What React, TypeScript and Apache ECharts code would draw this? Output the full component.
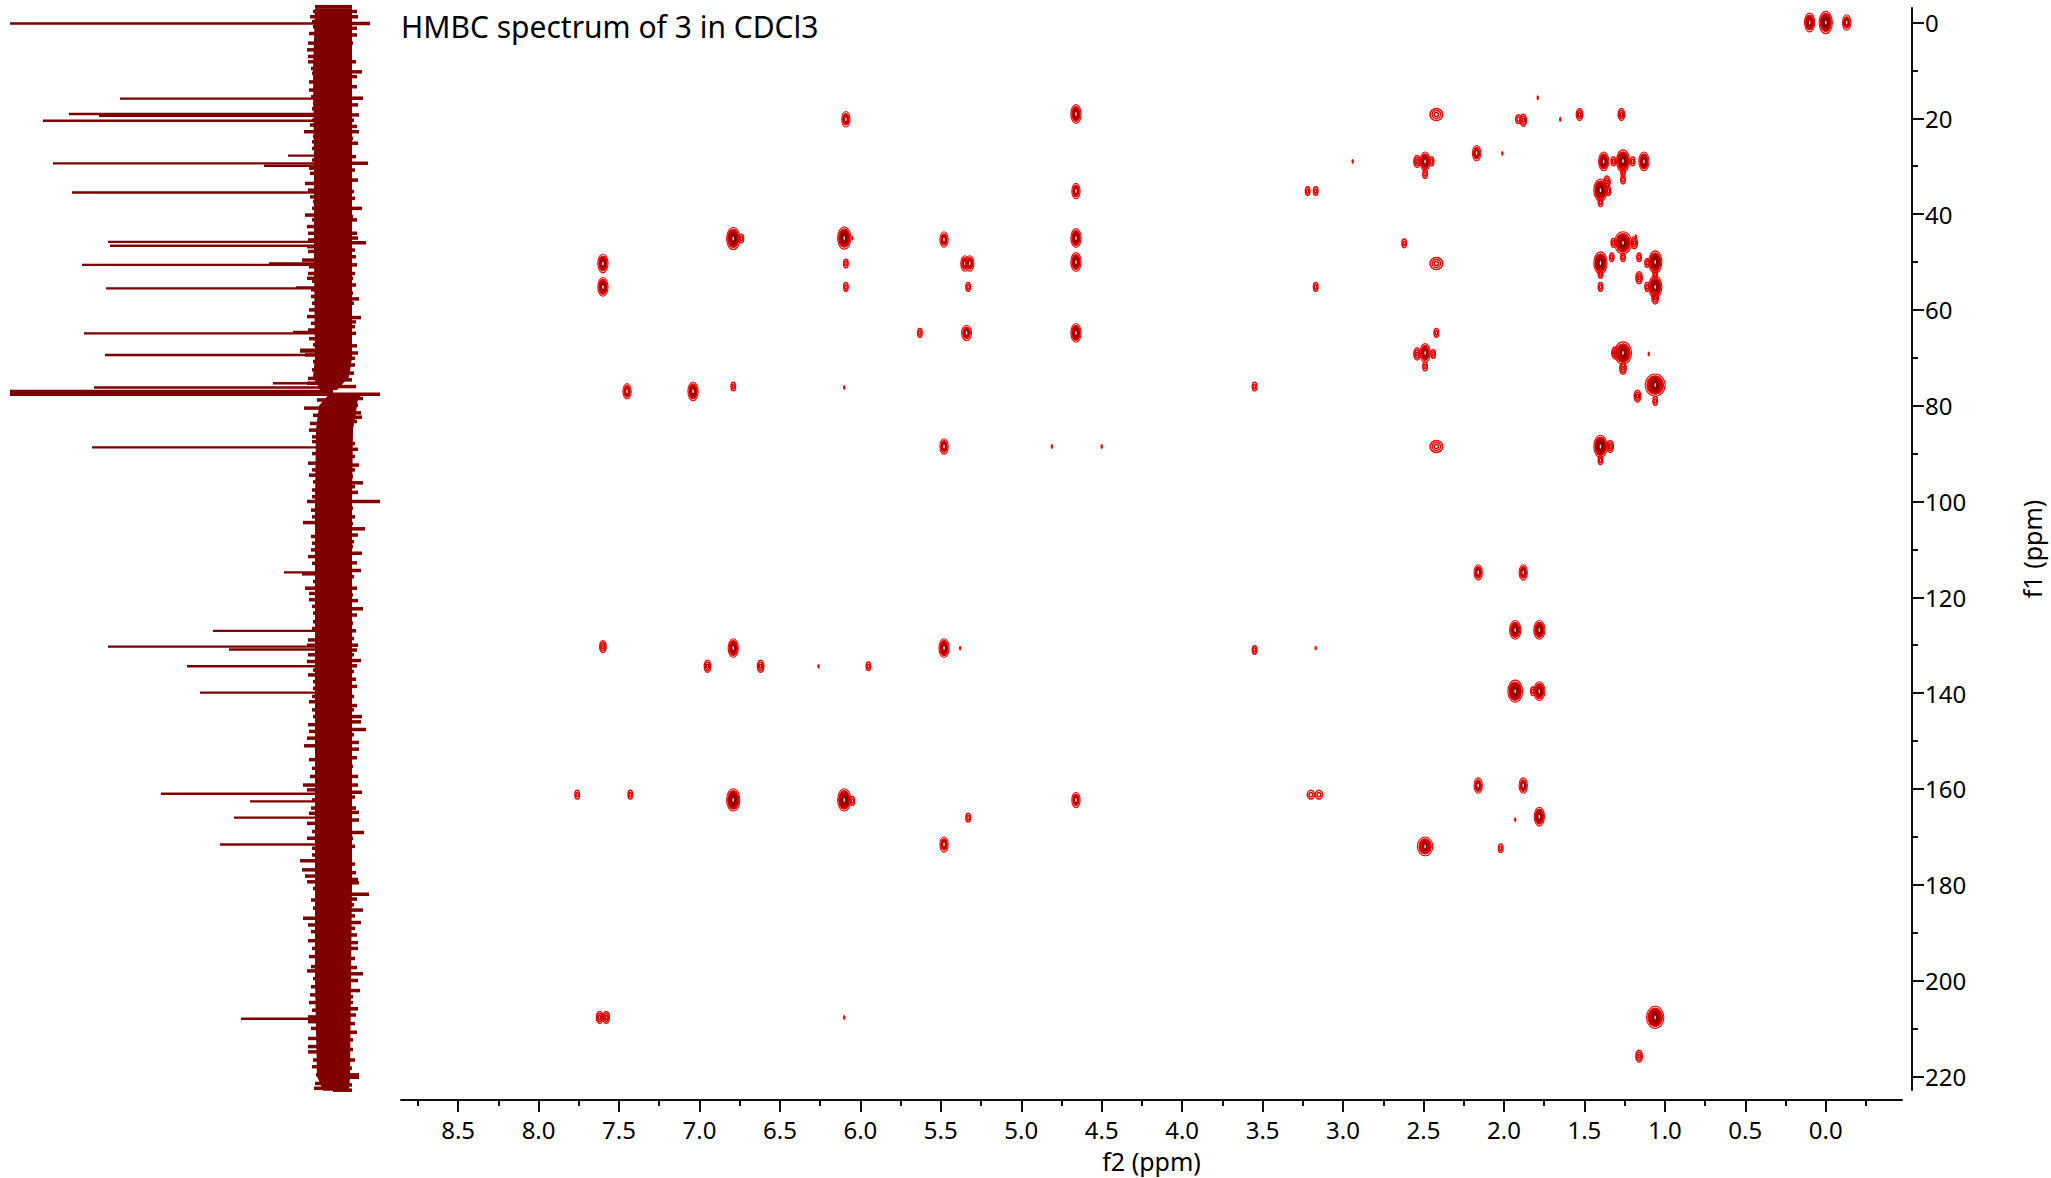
import React, { useEffect, useRef } from "react";
import * as echarts from "echarts";

const FONT = "'Noto Sans', sans-serif";
const TITLE = "HMBC spectrum of 3 in CDCl3";

const f2Major = [8.5, 8, 7.5, 7, 6.5, 6, 5.5, 5, 4.5, 4, 3.5, 3, 2.5, 2, 1.5, 1, 0.5, 0];
const f2Minor = [8.75, 8.25, 7.75, 7.25, 6.75, 6.25, 5.75, 5.25, 4.75, 4.25, 3.75, 3.25, 2.75, 2.25, 1.75, 1.25, 0.75, 0.25, -0.25];
const f1Major = [0, 20, 40, 60, 80, 100, 120, 140, 160, 180, 200, 220];
const f1Minor = [10, 30, 50, 70, 90, 110, 130, 150, 170, 190, 210];

// HMBC cross peaks: f2 (ppm), f1 (ppm), number of contour levels, breadth factor
const peakF2 = [0.1, 0.0, -0.13, 6.09, 4.66, 2.42, 1.88, 1.91, 1.79, 1.65, 1.53, 1.27,
  2.94, 2.49, 2.54, 2.45, 2.49, 2.17, 2.01, 1.38, 1.26, 1.32, 1.2, 1.26, 1.26, 1.13,
  3.22, 3.17, 4.66, 1.4, 1.36, 1.35, 1.4,
  6.79, 6.74, 6.1, 6.05, 5.48, 4.66, 2.62, 1.26, 1.32, 1.19, 1.26, 1.18,
  7.6, 6.09, 4.66, 5.35, 5.32, 2.42, 1.4, 1.33, 1.4, 1.16, 1.11, 1.06,
  7.6, 6.09, 5.33, 3.17, 1.06, 1.16, 1.11, 1.06, 1.06, 1.4,
  5.63, 5.34, 4.66, 2.42, 2.49, 2.54, 2.44, 2.49, 1.26, 1.26, 1.31, 1.1,
  7.45, 7.04, 6.79, 6.1, 3.55, 1.06, 1.17, 1.06,
  5.48, 4.81, 4.5, 2.42, 1.4, 1.34, 1.4,
  2.16, 1.88, 1.93, 1.78,
  7.6, 6.79, 5.48, 5.38, 3.55, 3.17,
  6.95, 6.62, 6.26, 5.95,
  1.93, 1.82, 1.78,
  7.76, 7.43, 3.2, 3.15, 2.16, 1.88, 6.79, 6.1, 6.05, 4.66,
  5.33, 1.93, 1.78, 5.48, 2.49, 2.02,
  7.62, 7.58, 6.1, 1.06, 1.16];
const peakF1 = [0, 0, 0, 20.2, 19.1, 19.2, 20.4, 20.2, 15.7, 20.2, 19.2, 19.2,
  29, 29, 29, 29, 31.6, 27.3, 27.3, 29, 28.9, 29, 29, 31.2, 32.8, 29,
  35.2, 35.2, 35.2, 35, 33.3, 35.2, 37.5,
  45.1, 45.1, 45, 45, 45.3, 45, 46.1, 46, 46, 46, 49, 44.7,
  50.3, 50.3, 50, 50.3, 50.3, 50.3, 50.2, 49, 52.5, 49, 50.2, 50,
  55.2, 55.2, 55.2, 55.2, 55.2, 53.3, 55.2, 52.6, 57.5, 55.2,
  64.8, 64.8, 64.8, 64.8, 69, 69.2, 69.2, 71.8, 69, 72.2, 69, 69.2,
  77, 77, 76, 76.2, 76, 75.7, 78, 79,
  88.5, 88.5, 88.5, 88.5, 88.5, 88.5, 91.4,
  114.8, 114.8, 126.8, 126.8,
  130.3, 130.6, 130.6, 130.6, 131, 130.6,
  134.4, 134.4, 134.4, 134.4,
  139.6, 139.6, 139.6,
  161.2, 161.2, 161.2, 161.2, 159.3, 159.3, 162.3, 162.3, 162.5, 162.3,
  166, 166.4, 165.8, 171.6, 172, 172.4,
  207.7, 207.7, 207.7, 207.7, 215.8];
const peakLevel = [4, 5, 3, 3, 4, 2, 2, 1, 0, 0, 2, 2,
  0, 4, 2, 1, 1, 3, 0, 4, 5, 1, 1, 1, 1, 4,
  1, 1, 3, 5, 2, 1, 1,
  5, 1, 5, 0, 3, 4, 1, 5, 1, 2, 1, 0,
  4, 1, 4, 3, 3, 2, 5, 1, 1, 1, 1, 5,
  4, 1, 1, 1, 5, 2, 1, 1, 2, 1,
  1, 3, 4, 1, 4, 2, 1, 1, 5, 2, 2, 0,
  3, 4, 1, 0, 1, 5, 2, 1,
  3, 0, 0, 2, 5, 2, 1,
  3, 3, 4, 4,
  2, 4, 4, 0, 1, 0,
  2, 2, 0, 1,
  5, 1, 4,
  1, 1, 1, 1, 3, 3, 5, 5, 1, 3,
  1, 0, 4, 3, 4, 1,
  2, 2, 0, 5, 2];
const peakBreadth = [1, 1, 1, 1, 1, 2, 1, 1.2, 1, 1, 1, 1,
  1, 1, 1, 1, 1, 1, 1, 1, 1, 1, 1, 1, 1, 1,
  1, 1, 1, 1, 1, 1, 1,
  1, 1, 1, 1, 1, 1, 1, 1.3, 1, 1, 1, 1,
  1, 1, 1, 1, 1, 2, 1, 1, 1, 1, 1, 1,
  1, 1, 1, 1, 1, 1, 1, 1, 1, 1,
  1, 1.2, 1, 1, 1, 1, 1, 1, 1.3, 1, 1, 1,
  1, 1, 1, 1, 1, 1.5, 1, 1,
  1, 1, 1, 2, 1, 1, 1,
  1, 1, 1.1, 1.1,
  1, 1, 1, 1, 1, 1,
  1, 1, 1, 1,
  1.1, 1, 1.1,
  1, 1, 1.6, 1.6, 1, 1, 1, 1, 1, 1,
  1, 1, 1, 1, 1.5, 1,
  1, 1, 1, 1.3, 1];

// 13C projection: peak sticks, intensity grows towards the left
const stickF1 = [0.2, 15.9, 19.1, 19.45, 20.5, 27.8, 29.4, 29.9, 35.5, 45.8, 46.6, 50.3, 50.6, 55.3, 55.5, 64.6, 64.9, 68.7, 69.4, 75.3, 76.2, 76.9, 77.3, 77.7, 88.7, 114.8, 127, 130.3, 130.9, 134.4, 139.9, 161, 162.6, 166, 171.6, 208];
const stickHeight = [323, 213, 264, 234, 290, 45, 280, 69, 261, 225, 223, 64, 251, 37, 227, 40, 249, 33, 228, 60, 239, 323, 323, 323, 241, 49, 120, 225, 104, 146, 133, 172, 83, 99, 113, 92];

// Solid body of the noise band: [f1, left extent, right extent]
const coreUpperF1 = [-3, 10, 30, 50, 70, 74, 76.7];
const coreUpperLeft = [18, 20, 19, 19, 18, 20, 13];
const coreUpperRight = [19, 19, 19, 19, 19, 16, 4];
const coreLowerF1 = [77.5, 78.5, 80, 85, 100, 120, 140, 160, 180, 200, 220, 223];
const coreLowerLeft = [3, 8, 14, 17, 18, 18, 18, 18, 18, 18, 16, 10];
const coreLowerRight = [30, 25, 24, 20, 19, 19, 19, 19, 19, 18, 17, 16];

// Noise excursions read along the band
const noiseLeftF1 = [-3.3, -2.3, -1.2, -0.2, 0.9, 2.3, 3.3, 4.3, 5.7, 7.1, 8.2, 9.6, 10.6, 12.4, 14.1, 15.5, 16.9, 18, 20.4, 21.4, 22.8, 23.8, 24.9, 26.3, 28.7, 30.4, 31.5, 33.6, 35, 36.4, 37.4, 38.8, 40.2, 41.2, 42.6, 44, 45.4, 46.8, 47.8, 49.6, 51, 52.4, 53.4,
  54, 55.8, 57.2, 58.6, 60, 61.4, 62.8, 64.2, 66, 67.3, 68.4, 69.4, 70.8, 72.5, 74.3, 75.3, 78.8, 80.5, 82, 83.7, 85.1, 86.5, 87.5, 90, 92, 93.4, 94.5, 95.9, 97.6, 99, 100, 101.8, 103.2, 104.4, 106, 107.3, 108.7, 110.1, 111.5,
  112.9, 115.1, 116.7, 118.1, 119.2, 120.5, 121.9, 123.3, 125.1, 126.5, 128.9, 130, 132, 133.4, 135.2, 136.2, 137.6, 139, 140.7, 141.8, 143.5, 144.9, 146.6, 148, 149.4, 151, 152.6, 153.9, 155.7, 157.4, 159.2, 160.2, 162.3, 164, 165.1, 167.2, 168.9, 170.3,
  172.4, 173.8, 175, 176.9, 178.2, 179.4, 180.8, 183.2, 184.9, 187, 188.4, 189.8, 191.7, 193.3, 195, 197.1, 198, 199.6, 201.3, 203, 204.6, 206.2, 207.6, 208.6, 210, 212.1, 213.8, 214.9, 216.6, 218, 219.7, 221.5, 222.5];
const noiseLeft = [18, 20, 23, 21, 20, 24, 17, 25, 26, 25, 25, 22, 21, 24, 24, 22, 20, 21, 21, 23, 29, 20, 21, 21, 21, 24, 23, 28, 25, 23, 20, 21, 28, 21, 26, 25, 25, 26, 25, 31, 24, 25, 26,
  21, 22, 22, 21, 24, 26, 22, 25, 24, 20, 33, 28, 20, 21, 25, 26, 16, 29, 20, 23, 24, 21, 21, 21, 25, 21, 24, 20, 21, 21, 26, 22, 21, 30, 18, 22, 21, 22, 25,
  21, 31, 20, 28, 24, 24, 21, 20, 20, 21, 25, 26, 25, 26, 20, 25, 20, 20, 21, 24, 21, 20, 25, 24, 26, 29, 18, 24, 21, 23, 30, 26, 21, 22, 24, 26, 21, 26,
  21, 21, 33, 31, 28, 26, 20, 22, 20, 30, 25, 22, 25, 21, 24, 22, 26, 20, 22, 23, 24, 21, 25, 25, 22, 25, 25, 25, 20, 21, 17, 18, 19];
const noiseRightF1 = [-3.3, -2.3, -1.2, 0.2, 1.2, 2.6, 4.3, 6.4, 8.2, 10.3, 11.3, 13.4, 15.8, 17.2, 19.3, 20.4, 21.7, 22.8, 24.2, 25.2, 26.6, 28, 29.4, 30.8, 32.9, 35.3, 36.7, 38.8, 40.5, 41.2, 44, 45, 46, 47.5, 48.9, 50.6, 52.4, 53.4,
  54.8, 56.5, 57.7, 58.6, 60.4, 61.6, 62.5, 63.5, 64.9, 66.3, 67.5, 69, 70.1, 71.5, 73.2, 74.6, 76, 77.6, 78.5, 79.9, 81.5, 82.4, 83.3, 84.4, 86.1, 87.9, 89.1, 90.6, 92.4, 93.4, 94.8, 96.1, 96.9, 98.1, 100, 101.4, 103.2, 104.6, 105.7, 107, 108.4, 109.4, 110.8, 111.9,
  112.8, 114.4, 115.7, 118.1, 119.5, 120.7, 122.4, 123.7, 125.4, 127, 128.6, 130, 131, 132, 133.2, 134.3, 135.5, 137.1, 138.6, 140.7, 142.6, 143.5, 144.9, 146, 147.6, 148.7, 150.3, 151.7, 153.5, 155.3, 157.4, 159.2, 160.7, 161.7, 164, 164.9, 166.5, 169.1, 170.3,
  172, 173.5, 175.7, 177.5, 178.9, 179.6, 180.8, 182, 183, 184.2, 185.3, 186.5, 187.9, 189.1, 190.5, 192.1, 193.3, 195.4, 197.3, 198.6, 200, 202.1, 203.4, 204.6, 205.9, 207.2, 209, 210.8, 212.4, 214.4, 216.6, 218.3, 219.7, 220.2, 221.8, 222.9];
const noiseRight = [19, 24, 25, 37, 24, 24, 20, 19, 23, 29, 24, 24, 30, 25, 26, 21, 24, 26, 20, 25, 19, 23, 35, 22, 25, 21, 22, 29, 20, 24, 24, 25, 33, 22, 23, 24, 22, 20,
  23, 20, 26, 21, 19, 28, 23, 22, 23, 19, 24, 25, 22, 22, 21, 19, 23, 47, 30, 25, 28, 29, 24, 20, 19, 22, 25, 22, 26, 22, 20, 30, 22, 25, 47, 20, 22, 20, 32, 25, 21, 20, 29, 19,
  24, 28, 21, 24, 20, 25, 30, 24, 20, 23, 21, 25, 24, 21, 28, 24, 21, 23, 24, 21, 24, 21, 29, 28, 33, 21, 26, 26, 24, 20, 25, 25, 29, 22, 23, 26, 26, 31, 20,
  22, 18, 22, 23, 25, 26, 19, 36, 24, 21, 30, 22, 28, 22, 24, 25, 25, 22, 24, 30, 25, 27, 20, 20, 25, 23, 22, 24, 20, 20, 22, 19, 26, 26, 19, 19];

const CONTOUR_COLORS = ["#ff0000", "#e00000", "#b80000", "#9c0000", "#8a0000", "#800000"];
const DARK = "#800000";
const AXIS = "#111111";

function peakItem(params: any, api: any) {
  const i = params.dataIndex;
  const c = api.coord([peakF2[i], peakF1[i]]);
  const L = peakLevel[i];
  const b = peakBreadth[i];
  if (L === 0) {
    return {
      type: "ellipse",
      shape: { cx: c[0], cy: c[1], rx: 1.2, ry: 2.4 },
      style: { fill: "#ff0000" },
    };
  }
  const rx = 1.3 + 0.95 * L + (L === 5 ? 0.6 : 0);
  const ry = 2.6 + 1.7 * L;
  const children: any[] = [];
  for (let k = 0; k <= L; k++) {
    const t = 1 - k / (L + 1);
    const widen = k < 2 || L < 3 ? b : 1;
    const color = CONTOUR_COLORS[Math.min(5, k)];
    children.push({
      type: "ellipse",
      shape: { cx: c[0], cy: c[1], rx: rx * t * widen, ry: ry * t },
      style: { fill: L >= 3 && k >= 1 ? color : "none", stroke: color, lineWidth: L < 3 ? 1.5 : 1.1 },
    });
  }
  if (L >= 3) {
    children.push({
      type: "ellipse",
      shape: { cx: c[0], cy: c[1], rx: 0.8, ry: 2 },
      style: { fill: "#ffdcdc" },
    });
  }
  return { type: "group", children };
}

function coreShape(f1: number[], left: number[], right: number[], api: any) {
  const pts: number[][] = [];
  f1.forEach((v, i) => pts.push(api.coord([left[i], v])));
  for (let i = f1.length - 1; i >= 0; i--) pts.push(api.coord([-right[i], f1[i]]));
  return { type: "polygon", shape: { points: pts }, style: { fill: DARK } };
}

function hRect(a: number[], b: number[], h: number, fill: string) {
  return {
    type: "rect",
    shape: { x: Math.min(a[0], b[0]), y: a[1] - h / 2, width: Math.abs(a[0] - b[0]), height: h },
    style: { fill },
  };
}

export default function App() {
  const ref = useRef<HTMLDivElement>(null);
  useEffect(() => {
    const chart = echarts.init(ref.current!, null, { renderer: "svg" });
    const f2Common = { type: "value", min: -0.474, max: 8.855, inverse: true, position: "bottom", offset: 10, splitLine: { show: false } };
    const f1Common = { type: "value", min: -3.03, max: 222.86, inverse: true, position: "right", offset: 10, splitLine: { show: false } };
    const line = { show: true, onZero: false, lineStyle: { color: AXIS, width: 2 } };
    const off = { show: false, onZero: false };
    chart.setOption({
      animation: false,
      backgroundColor: "#ffffff",
      title: {
        text: TITLE,
        left: 396,
        top: 6,
        textStyle: { fontFamily: FONT, fontSize: 30, fontWeight: "normal", color: "#000" },
      },
      grid: [
        { left: 401, top: 8, width: 1501, height: 1082, outerBoundsMode: "none" },
        { left: 0, top: 8, width: 400, height: 1082, outerBoundsMode: "none" },
      ],
      xAxis: [
        {
          ...f2Common,
          gridIndex: 0,
          name: "f2 (ppm)",
          nameLocation: "middle",
          nameGap: 48,
          nameTextStyle: { fontFamily: FONT, fontSize: 25, color: "#000" },
          axisLine: line,
          axisTick: { show: true, customValues: f2Major, length: 12, lineStyle: { color: AXIS, width: 2 } },
          axisLabel: { show: true, customValues: f2Major, margin: 17, fontFamily: FONT, fontSize: 24, color: "#000", formatter: (v: number) => v.toFixed(1) },
        },
        {
          ...f2Common,
          gridIndex: 0,
          axisLine: off,
          axisTick: { show: true, customValues: f2Minor, length: 6, lineStyle: { color: AXIS, width: 2 } },
          axisLabel: { show: false },
        },
        { type: "value", gridIndex: 1, min: -67, max: 333, inverse: true, show: false },
      ],
      yAxis: [
        {
          ...f1Common,
          gridIndex: 0,
          name: "f1 (ppm)",
          nameLocation: "middle",
          nameRotate: 90,
          nameGap: 107,
          nameTextStyle: { fontFamily: FONT, fontSize: 25, color: "#000" },
          axisLine: line,
          axisTick: { show: true, customValues: f1Major, length: 12, lineStyle: { color: AXIS, width: 2 } },
          axisLabel: { show: true, customValues: f1Major, margin: 13, fontFamily: FONT, fontSize: 24, color: "#000" },
        },
        {
          ...f1Common,
          gridIndex: 0,
          axisLine: off,
          axisTick: { show: true, customValues: f1Minor, length: 6, lineStyle: { color: AXIS, width: 2 } },
          axisLabel: { show: false },
        },
        { type: "value", gridIndex: 1, min: -3.03, max: 222.86, inverse: true, show: false },
      ],
      series: [
        {
          type: "custom",
          name: "band",
          xAxisIndex: 2,
          yAxisIndex: 2,
          silent: true,
          clip: false,
          data: [[0, 0]],
          encode: { x: 0, y: 1 },
          renderItem: (_p: any, api: any) => ({
            type: "group",
            children: [
              coreShape(coreUpperF1, coreUpperLeft, coreUpperRight, api),
              coreShape(coreLowerF1, coreLowerLeft, coreLowerRight, api),
            ],
          }),
        },
        {
          type: "custom",
          name: "noiseLeft",
          xAxisIndex: 2,
          yAxisIndex: 2,
          silent: true,
          clip: false,
          data: noiseLeft.map((v, i) => [v, noiseLeftF1[i]]),
          encode: { x: 0, y: 1 },
          renderItem: (_p: any, api: any) =>
            hRect(api.coord([api.value(0), api.value(1)]), api.coord([0, api.value(1)]), 3.5, DARK),
        },
        {
          type: "custom",
          name: "noiseRight",
          xAxisIndex: 2,
          yAxisIndex: 2,
          silent: true,
          clip: false,
          data: noiseRight.map((v, i) => [-v, noiseRightF1[i]]),
          encode: { x: 0, y: 1 },
          renderItem: (_p: any, api: any) =>
            hRect(api.coord([api.value(0), api.value(1)]), api.coord([0, api.value(1)]), 3.5, DARK),
        },
        {
          type: "custom",
          name: "sticks",
          xAxisIndex: 2,
          yAxisIndex: 2,
          silent: true,
          clip: false,
          data: stickHeight.map((v, i) => [v, stickF1[i]]),
          encode: { x: 0, y: 1 },
          renderItem: (_p: any, api: any) =>
            hRect(api.coord([api.value(0), api.value(1)]), api.coord([0, api.value(1)]), 2.4, DARK),
        },
        {
          type: "custom",
          name: "HMBC",
          xAxisIndex: 0,
          yAxisIndex: 0,
          silent: true,
          clip: false,
          data: peakF2.map((v, i) => [v, peakF1[i]]),
          encode: { x: 0, y: 1 },
          renderItem: peakItem,
        },
      ],
    });
    return () => chart.dispose();
  }, []);
  return <div ref={ref} style={{ position: "fixed", left: 0, top: 0, width: 2051, height: 1178 }} />;
}
